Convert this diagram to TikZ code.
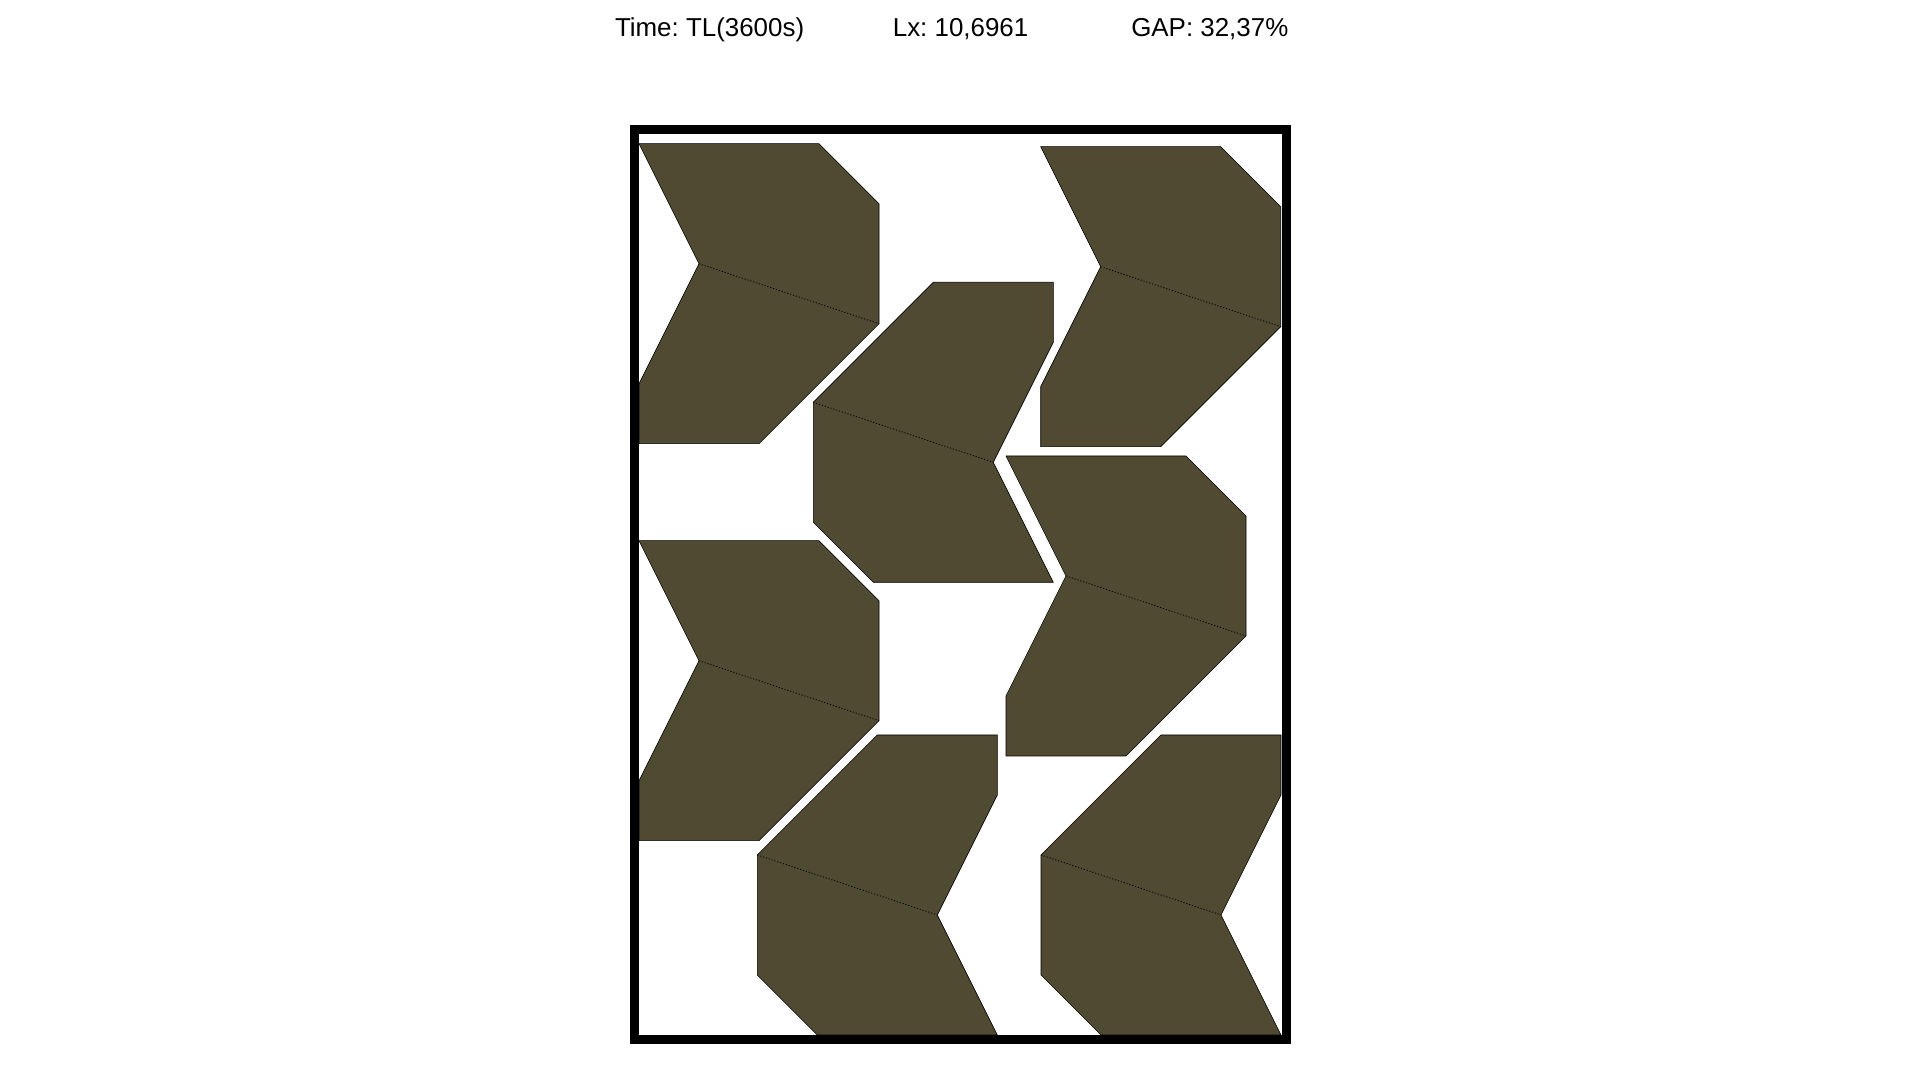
\documentclass[tikz,border=0pt]{standalone}
\usepackage{fontspec}
\setmainfont{Liberation Sans}
\frenchspacing
\definecolor{piecefill}{RGB}{80,74,51}
\newcommand\pieceA[2]{%
  \begin{scope}[shift={(#1,#2)}]
    \filldraw[piece] (0,0)--(180,0)--(240,60)--(240,180)--(120,300)--(0,300)--(0,240)--(60,120)--cycle;
    \draw[seam] (60,120)--(240,180);
  \end{scope}}
\newcommand\pieceB[2]{%
  \begin{scope}[shift={(#1,#2)}]
    \filldraw[piece] (120,0)--(240,0)--(240,60)--(180,180)--(240,300)--(60,300)--(0,240)--(0,120)--cycle;
    \draw[seam] (0,120)--(180,180);
  \end{scope}}
\begin{document}
\begin{tikzpicture}[x=0.01cm,y=-0.01cm,
  piece/.style={fill=piecefill,draw=black,line width=0.006cm},
  seam/.style={draw=black,line width=0.008cm,dash pattern=on 0.012cm off 0.018cm},
  frame/.style={draw=black,line width=0.09cm},
  label/.style={font=\fontsize{7.37pt}{9pt}\selectfont\frenchspacing,anchor=base,inner sep=0pt}]
\useasboundingbox[fill=white] (0,0) rectangle (1920,1080);
\node[label] (time) at (709.6,36.5) {Time: TL(3600s)};
\node[label] (lx) at (960.6,36.5) {Lx: 10,6961};
\node[label] (gap) at (1209.8,36.5) {GAP: 32,37\%};
\pieceA{639}{143.7}
\pieceA{1040.7}{146.7}
\pieceA{1006}{456}
\pieceA{639}{540.7}
\pieceB{813.3}{282.3}
\pieceB{757.3}{735}
\pieceB{1041}{735}
\draw[frame] (634.5,130) rectangle (1286.5,1039.5);
\end{tikzpicture}
\end{document}
